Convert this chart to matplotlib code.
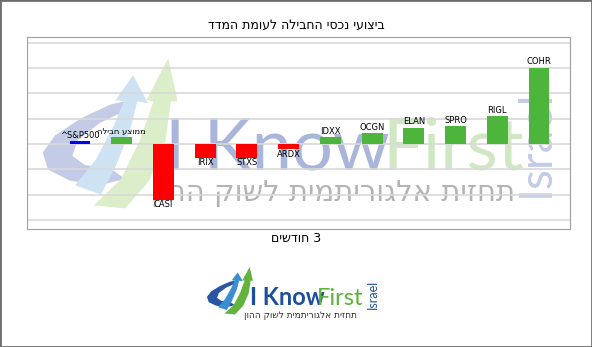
import matplotlib
matplotlib.use("Agg")
import matplotlib.pyplot as plt
from matplotlib.patches import Polygon

# נתוני הגרף (אחוז תשואה, 3 חודשים)
tickers = ["^S&P500", "ממוצע חבילה", "CASI", "IRIX", "STXS", "ARDX",
           "IDXX", "OCGN", "ELAN", "SPRO", "RIGL", "COHR"]
returns = [1.2, 2.6, -22.0, -5.4, -5.4, -2.1, 2.9, 4.2, 6.5, 7.2, 10.9, 30.2]
colors = ["#0000ff", "#4db53b", "#ff0000", "#ff0000", "#ff0000", "#ff0000",
          "#4db53b", "#4db53b", "#4db53b", "#4db53b", "#4db53b", "#4db53b"]

title = "ביצועי נכסי החבילה לעומת המדד"
xlabel = "3 חודשים"
slogan = "תחזית אלגוריתמית לשוק ההון"


def rtl(s):
    # matplotlib n'a pas de bidi : on inverse les chaînes en hébreu
    if any("\u0590" <= c <= "\u05ff" for c in s):
        return s[::-1]
    return s


W, H = 592, 347

# formes du logo (carré unité, v vers le bas)
crescent = [(0.73, 0.28), (0.52, 0.32), (0.30, 0.41), (0.11, 0.52), (0.02, 0.63), (0.06, 0.74),
            (0.22, 0.81), (0.44, 0.84), (0.63, 0.80), (0.52, 0.73), (0.33, 0.71), (0.24, 0.65),
            (0.28, 0.55), (0.44, 0.44), (0.63, 0.36)]
arrow_blue = [(0.26, 0.84), (0.41, 0.68), (0.55, 0.45), (0.62, 0.30), (0.56, 0.29), (0.69, 0.13),
              (0.80, 0.31), (0.72, 0.30), (0.67, 0.48), (0.55, 0.74), (0.45, 0.90)]
arrow_green = [(0.40, 0.97), (0.60, 0.80), (0.74, 0.55), (0.84, 0.30), (0.79, 0.29), (0.95, 0.02),
               (1.02, 0.30), (0.97, 0.30), (0.93, 0.55), (0.81, 0.81), (0.63, 0.99)]


def icon(target, x0, y0, w, h, cols, z):
    for shape, c in zip([crescent, arrow_blue, arrow_green], cols):
        pts = [((x0 + u * w) / W, 1 - (y0 + v * h) / H) for u, v in shape]
        target.add_artist(Polygon(pts, closed=True, transform=fig.transFigure,
                                  facecolor=c, edgecolor="none", zorder=z))


plt.rcParams['font.family'] = ['DejaVu Sans']

fig = plt.figure(figsize=(5.92, 3.47), dpi=100)
ax = fig.add_axes([0.0456, 0.340, 0.917, 0.553])

x = list(range(len(tickers)))
ax.bar(x, returns, width=0.5, color=colors, zorder=2)

for i, v in enumerate(returns):
    if v >= 0:
        ax.text(i, v + 0.4, rtl(tickers[i]), ha="center", va="bottom", fontsize=6, zorder=3)
    else:
        ax.text(i, v - 0.2, rtl(tickers[i]), ha="center", va="top", fontsize=6, zorder=3)

ax.set_xlim(-1.27, 11.74)
ax.set_ylim(-33.6, 42.2)
ax.set_yticks(range(-30, 41, 10))
ax.set_xticks([])
ax.tick_params(left=False, labelleft=False)
ax.grid(axis="y", color="#d9d9d9", linewidth=1.2)
ax.set_axisbelow(True)
for sp in ax.spines.values():
    sp.set_color("#a0a0a0")
    sp.set_linewidth(0.8)

# filigrane du logo derrière les barres
icon(ax, 40, 55, 135, 155, ["#c3cbe6", "#cde3f3", "#dcedc9"], 0.1)
ax.text(165 / W, 1 - 170 / H, "I Know", transform=fig.transFigure, fontsize=52, color="#a9b5da",
        family="Lato", zorder=0.2, ha="left", va="baseline")
ax.text(382 / W, 1 - 170 / H, "First", transform=fig.transFigure, fontsize=52, color="#cfe7c3",
        family="Lato", zorder=0.2, ha="left", va="baseline")
ax.text(333 / W, 1 - 193 / H, rtl(slogan), transform=fig.transFigure, fontsize=21, color="#b4b4b4",
        zorder=0.2, ha="center", va="center")
ax.text(536 / W, 1 - 143 / H, "Israel", transform=fig.transFigure, fontsize=33, color="#c3cbe6",
        family="Lato", rotation=90, zorder=0.2, ha="center", va="center")

fig.text(0.5, 0.928, rtl(title), ha="center", va="center", fontsize=9)
fig.text(0.5, 0.314, rtl(xlabel), ha="center", va="center", fontsize=9)

# logo en bas
icon(fig, 206, 266, 46, 49, ["#2a55a5", "#3b8fd0", "#63b33f"], 1)
fig.text(250 / W, 1 - 305 / H, "I Know", fontsize=17, color="#1d4f9c", family="Lato",
         weight="bold", ha="left", va="baseline")
fig.text(317 / W, 1 - 305 / H, "First", fontsize=17, color="#5db33d", family="Lato",
         ha="left", va="baseline")
fig.text(300 / W, 1 - 316 / H, rtl(slogan), fontsize=6.5, color="#303030", ha="center", va="center")
fig.text(373 / W, 1 - 294 / H, "Israel", fontsize=9, color="#1d4f9c", family="Lato",
         rotation=90, ha="center", va="center")

# cadre extérieur
fig.patches.append(plt.Rectangle((0, 0), 1, 1, transform=fig.transFigure, fill=False,
                                 edgecolor="#6e6e6e", linewidth=2))

fig.savefig("out.png", dpi=100)
